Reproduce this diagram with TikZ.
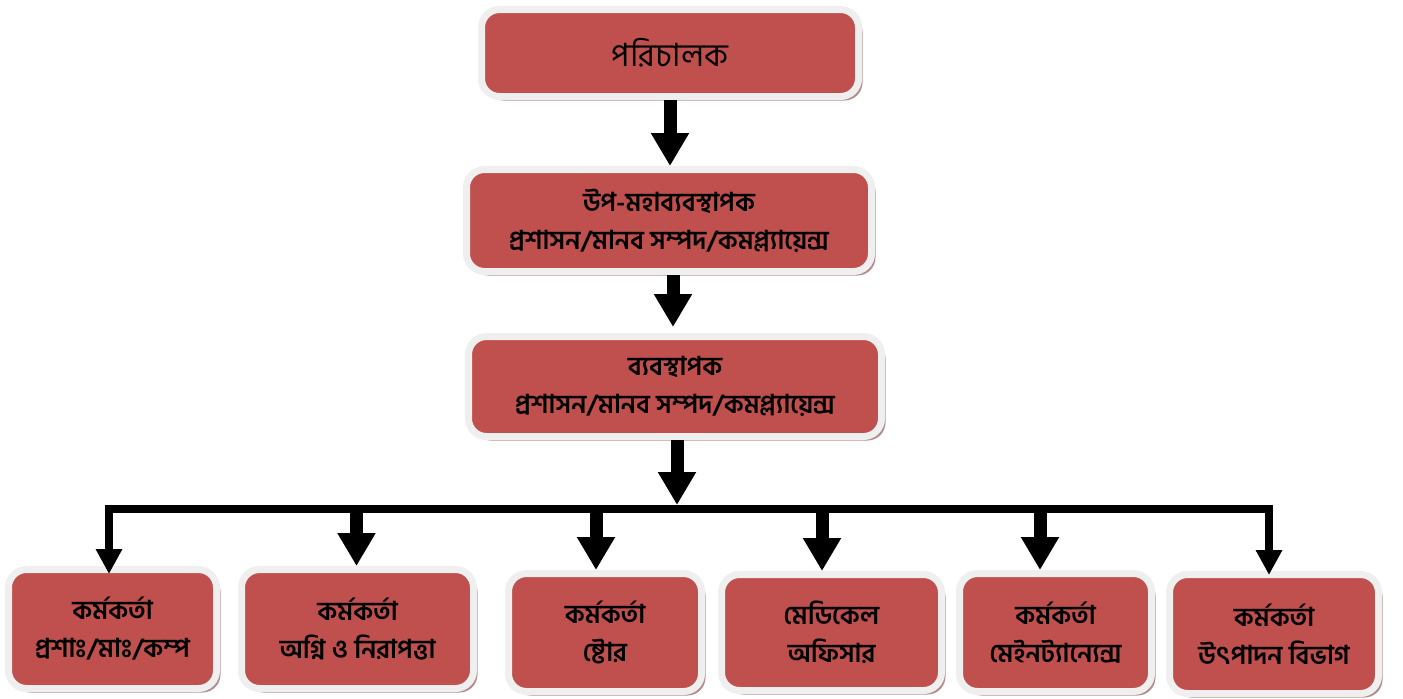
\documentclass[tikz,border=0pt]{standalone}
\usepackage{fontspec}
\setmainfont{Hind Siliguri}[Script=Bengali]
\usepackage{tikz}
\usetikzlibrary{positioning,arrows.meta,shadows}
\definecolor{boxred}{HTML}{C0504D}
\definecolor{boxrim}{HTML}{EFEFEF}
\definecolor{boxshade}{HTML}{B38C8C}

\begin{document}
\begin{tikzpicture}[x=0.5pt,y=-0.5pt]
        \tikzstyle{box}=[draw=boxrim,line width=3.5pt,fill=boxred,rounded corners=9pt,align=center,inner sep=0pt,
            drop shadow={shadow xshift=2pt,shadow yshift=-2pt,fill=boxshade,opacity=1},
            font=\fontsize{13}{19}\selectfont\bfseries]
        \tikzstyle{arr}=[line width=6.5pt,-{Triangle[length=16.5pt,width=18pt]}]
        \tikzstyle{thinarr}=[line width=4pt,-{Triangle[length=12.5pt,width=12.5pt]}]

        \useasboundingbox (0,0) rectangle (1403,698);

        \draw (670,53) node[box,minimum width=188.5pt,minimum height=43.5pt,font=\fontsize{16}{20}\selectfont] (b1) {পরিচালক};
        \draw (669,220.5) node[box,minimum width=202.5pt,minimum height=51pt] (b2) {উপ-মহাব্যবস্থাপক\\প্রশাসন/মানব সম্পদ/কমপ্ল্যায়েন্স};
        \draw (675,386.5) node[box,minimum width=206.5pt,minimum height=50pt] (b3) {ব্যবস্থাপক\\প্রশাসন/মানব সম্পদ/কমপ্ল্যায়েন্স};

        \draw (112.5,629) node[box,minimum width=104pt,minimum height=59.5pt] (c1) {কর্মকর্তা\\প্রশাঃ/মাঃ/কম্প};
        \draw (357.5,629) node[box,minimum width=116pt,minimum height=59.5pt] (c2) {কর্মকর্তা\\অগ্নি ও নিরাপত্তা};
        \draw (605,632.5) node[box,minimum width=96.5pt,minimum height=59pt] (c3) {কর্মকর্তা\\ষ্টোর};
        \draw (831.5,632.5) node[box,minimum width=110pt,minimum height=58pt] (c4) {মেডিকেল\\অফিসার};
        \draw (1055.5,632.5) node[box,minimum width=96pt,minimum height=59pt] (c5) {কর্মকর্তা\\মেইনট্যান্যেন্স};
        \draw (1274,634) node[box,minimum width=104.5pt,minimum height=59.5pt] (c6) {কর্মকর্তা\\উৎপাদন বিভাগ};

        \coordinate (bus) at (677,509);
        \coordinate (d1) at (109,509);
        \coordinate (d2) at (356.5,509);
        \coordinate (d3) at (596,509);
        \coordinate (d4) at (822,509);
        \coordinate (d5) at (1040,509);
        \coordinate (d6) at (1269,509);

        \draw[arr] (b1.south) -- (b1.south |- b2.north);
        \draw[arr,shorten >=3pt] ([xshift=2pt]b2.south) -- ([xshift=2pt]b2.south |- b3.north);
        \draw[arr,shorten >=2pt] (b3.south -| bus) -- (bus);

        \draw[line width=4pt,line cap=rect] (d1) -- (d6);
        \draw[thinarr,shorten >=-4pt] (d1) -- (d1 |- c1.north);
        \draw[arr] (d2) -- (d2 |- c2.north);
        \draw[arr] (d3) -- (d3 |- c3.north);
        \draw[arr] (d4) -- (d4 |- c4.north);
        \draw[arr] (d5) -- (d5 |- c5.north);
        \draw[thinarr,shorten >=-2pt] (d6) -- (d6 |- c6.north);
    \end{tikzpicture}
\end{document}
